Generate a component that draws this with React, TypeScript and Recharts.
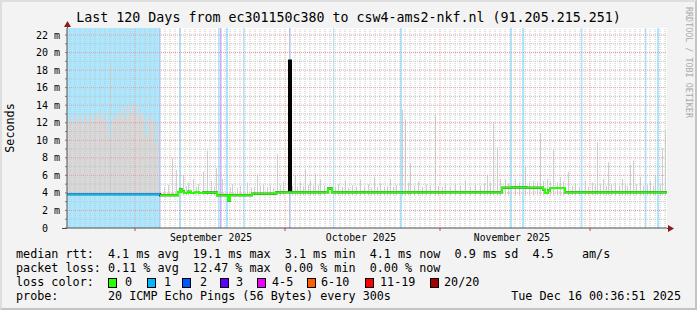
import { ComposedChart, Area, Line, XAxis, YAxis, ReferenceLine, ReferenceArea } from 'recharts'

const MONO = '"DejaVu Sans Mono", "Liberation Mono", monospace'

// x = days since the left edge of the graph (120 days ending Tue Dec 16 00:36)
const monthStarts = [13.6, 43.6, 74.6, 104.6]
const monthLabels = [
  { t: 28.8, label: 'September 2025' },
  { t: 58.8, label: 'October 2025' },
  { t: 89.0, label: 'November 2025' },
]
const yTicks = [0, 1, 2, 3, 4, 5, 6, 7, 8, 9, 10, 11, 12, 13, 14, 15, 16, 17, 18, 19, 20, 21, 22]

// loss colours by loss level index
const lossColors = ['#26ff00', '#00b8ff', '#0059ff', '#5e00ff', '#ee00ff', '#ff5e00', '#ff0000', '#a10000']
const lossLabels = ['0', '1', '2', '3', '4-5', '6-10', '11-19', '20/20']

// loss bars: [from, to, level]
const lossBars: [number, number, number][] = [
  [0, 18.4, 1], [18.4, 18.7, 2], [22.4, 22.8, 1], [30.2, 30.5, 1], [30.6, 30.9, 3],
  [31.8, 32.2, 1], [35.2, 35.5, 1], [44.4, 44.7, 2], [53.2, 53.4, 1], [66.6, 67.0, 1],
  [88.6, 89.0, 1], [91.0, 91.4, 1], [102.8, 103.1, 1], [115.6, 115.9, 1], [118.0, 118.4, 1],
]

// smoke (ms) — dense part at the start: [t, hi]
const SMOKE_LO = 3.7
const smokeBlock: [number, number][] = [
  [0, 12.0], [0.5, 12.6], [1, 11.8], [1.5, 12.9], [2, 12.2], [2.5, 12.7], [3, 11.9], [3.5, 13.0],
  [4, 12.4], [4.5, 12.8], [5, 12.1], [5.5, 13.2], [6, 12.6], [6.5, 13.4], [7, 12.3], [7.5, 12.9],
  [8, 11.6], [8.5, 10.2], [9, 12.8], [9.5, 12.4], [10, 13.3], [10.5, 12.7], [11, 13.6], [11.5, 12.5],
  [12, 13.9], [12.5, 13.1], [13, 14.2], [13.5, 12.9], [14, 13.7], [14.5, 12.6], [15, 13.2], [15.5, 10.6],
  [16, 12.4], [16.5, 13.0], [17, 12.2], [17.5, 9.6], [18, 11.8], [18.4, SMOKE_LO],
]
// single smoke spikes: [t, hi]
const smokeSpikes: [number, number][] = [
  [8.6, 18.8], [19.4, 4.6], [20.2, 4.9], [21.0, 8.0], [21.8, 6.6], [23.2, 6.0], [23.8, 4.8], [24.2, 5.2],
  [25.2, 5.6], [25.8, 4.7], [26.2, 5.0], [27.2, 6.4], [28.0, 8.8], [28.8, 5.4], [29.4, 4.7], [29.8, 6.8],
  [31.0, 5.6], [32.6, 4.6], [33.0, 5.0], [34.0, 4.6], [34.6, 4.8], [36.0, 5.2], [36.8, 4.6], [37.4, 4.7],
  [38.0, 6.1], [38.6, 4.8], [39.2, 5.0], [40.0, 4.7], [40.6, 4.9], [41.2, 4.6], [42.0, 8.4], [42.6, 4.9],
  [43.2, 5.3], [45.0, 4.8], [45.6, 6.0], [46.0, 4.7], [46.6, 5.2], [47.2, 4.8], [47.6, 6.6], [48.2, 4.9],
  [48.6, 5.4], [49.2, 4.8], [49.6, 6.2], [50.2, 4.9], [50.6, 5.6], [51.4, 4.8], [53.6, 4.7], [54.2, 5.0],
  [55.0, 4.7], [55.6, 5.4], [56.2, 4.6], [57.0, 4.9], [57.8, 4.7], [58.6, 5.5], [59.4, 4.7], [60.2, 5.0],
  [60.8, 4.6], [61.4, 5.8], [62.0, 4.7], [62.6, 5.1], [63.4, 4.7], [64.0, 4.8], [64.6, 5.6], [65.2, 4.7],
  [65.8, 4.9], [67.0, 13.5], [67.6, 12.4], [68.2, 5.2], [68.6, 7.4], [69.4, 4.8], [70.2, 5.3], [71.0, 4.7],
  [71.8, 5.0], [72.6, 4.8], [73.6, 12.9], [74.2, 4.8], [75.0, 4.7], [75.6, 5.1], [76.6, 4.7], [77.6, 5.0],
  [78.6, 4.8], [79.6, 5.4], [80.6, 4.7], [81.6, 4.9], [82.6, 4.8], [83.4, 5.1], [84.0, 6.0], [84.6, 5.2],
  [85.2, 12.0], [86.0, 9.2], [86.6, 5.6], [87.6, 5.5], [88.2, 5.1], [89.6, 5.6], [90.4, 5.2], [91.6, 7.0],
  [92.4, 5.2], [93.2, 5.4], [94.0, 5.3], [94.6, 10.8], [95.2, 5.4], [96.0, 5.6], [96.6, 5.3], [97.2, 8.9],
  [98.0, 5.2], [98.6, 5.8], [99.2, 5.3], [100.2, 6.4], [101.0, 4.8], [101.6, 5.1], [102.4, 4.7], [103.6, 5.4],
  [104.2, 4.7], [105.0, 5.2], [105.6, 4.8], [106.0, 9.8], [106.6, 5.0], [107.2, 5.6], [107.8, 4.8], [108.2, 7.5],
  [108.8, 5.0], [109.6, 5.2], [110.4, 4.8], [111.0, 5.6], [111.6, 5.0], [112.0, 4.8], [112.6, 7.2], [113.2, 7.7],
  [113.8, 5.0], [114.6, 5.8], [115.2, 4.8], [116.0, 4.9], [116.6, 5.4], [117.2, 4.8], [117.6, 5.9], [118.6, 5.0],
  [119.0, 9.1], [119.6, 11.2],
]

// median rtt steps (ms): [t, value]
const medianBlue: [number, number][] = [[0, 3.84], [18.6, 3.84]]
const medianGreen: [number, number][] = [
  [18.6, 3.73], [22.2, 4.1], [22.6, 4.4], [23.0, 4.2], [23.4, 4.0], [24.2, 4.12], [24.8, 3.98], [25.6, 4.1],
  [26.4, 4.0], [27.2, 4.05], [30.0, 3.73], [32.2, 3.1], [32.6, 3.73], [37.0, 3.9], [41.8, 4.07], [52.2, 4.5],
  [53.0, 4.07], [87.0, 4.6], [89.0, 4.62], [92.0, 4.58], [95.2, 4.35], [95.6, 4.0], [96.2, 4.3], [96.6, 4.55],
  [99.6, 4.07], [120, 4.07],
]
const medianSpike: [number, number][] = [[44.4, 19.1], [44.8, 4.07]]

const blockData = smokeBlock.map(([t, hi]) => ({ t, r: [SMOKE_LO, hi] }))
const spikeData = smokeSpikes.flatMap(([t, hi]) => [
  { t, r: [SMOKE_LO, hi] },
  { t: t + 0.2, r: [SMOKE_LO, SMOKE_LO] },
])
const blueData = medianBlue.map(([t, v]) => ({ t, v }))
const greenData = medianGreen.map(([t, v]) => ({ t, v }))
const blackData = [medianBlue[0], ...medianGreen, ...medianSpike]
  .sort((a, b) => a[0] - b[0])
  .map(([t, v]) => ({ t, v }))

const dayLines: number[] = []
for (let d = 0.6; d < 120; d += 1) {
  const r = Math.round(d * 10) / 10
  if (!monthStarts.includes(r)) dayLines.push(r)
}

const YTick = (props: any) => {
  const { x, y, payload } = props
  const v = payload.value
  return (
    <g>
      <line x1={x - 2} x2={x} y1={y} y2={y} stroke="#777" />
      {v % 2 === 0 && (
        <text x={v === 0 ? x - 19 : x - 7} y={y} dy={3.5} textAnchor="end" fontFamily={MONO} fontSize={10} fill="#000">
          {v === 0 ? '0' : `${v} m`}
        </text>
      )}
    </g>
  )
}

const XTick = (props: any) => {
  const { x, y, payload } = props
  const m = monthLabels.find((l) => l.t === payload.value)
  if (!m) return <line x1={x} x2={x} y1={y} y2={y + 3} stroke="#d04040" />
  return (
    <text x={x} y={y + 13} textAnchor="middle" fontFamily={MONO} fontSize={9.75} fill="#000">
      {m.label}
    </text>
  )
}

const lineStyle: React.CSSProperties = {
  position: 'absolute',
  left: 16,
  fontFamily: MONO,
  fontSize: 11.75,
  lineHeight: '14px',
  whiteSpace: 'pre',
  color: '#000',
}

const legendX = [108, 147, 182, 220, 257, 307, 365, 430]
const legendLabelX = [125, 164, 200, 236, 272, 321, 380, 444]

export default function App() {
  return (
    <div style={{ position: 'absolute', left: 0, top: 0, width: 697, height: 310, background: '#f3f3f3', overflow: 'hidden' }}>
      <div style={{ position: 'absolute', left: 67, top: 28, width: 600, height: 200, background: '#fff' }} />
      <div style={{ position: 'absolute', left: 0, top: 0 }}>
        <ComposedChart width={697} height={310} margin={{ top: 28, right: 30, bottom: 62, left: 7 }}>
          <XAxis
            dataKey="t"
            type="number"
            domain={[0, 120]}
            allowDataOverflow
            ticks={[...monthStarts, ...monthLabels.map((m) => m.t)].sort((a, b) => a - b)}
            interval={0}
            tick={<XTick />}
            tickLine={false}
            tickSize={0}
            tickMargin={0}
            axisLine={{ stroke: '#505050' }}
            height={20}
          />
          <YAxis
            type="number"
            domain={[0, 22.8]}
            allowDataOverflow
            ticks={yTicks}
            interval={0}
            tick={<YTick />}
            tickLine={false}
            tickSize={0}
            tickMargin={0}
            axisLine={{ stroke: '#505050' }}
            width={60}
          />
          {lossBars.map(([a, b, lvl], i) => (
            <ReferenceArea key={'l' + i} x1={a} x2={b} y1={0} y2={22.8} fill={lossColors[lvl]} fillOpacity={0.33} stroke="none" ifOverflow="hidden" zIndex={50} />
          ))}
          <Area data={blockData} dataKey="r" type="stepAfter" stroke="none" fill="#d8d8d8" fillOpacity={1} isAnimationActive={false} dot={false} activeDot={false} zIndex={100} />
          <Area data={spikeData} dataKey="r" type="stepAfter" stroke="none" fill="#cfcfcf" fillOpacity={1} isAnimationActive={false} dot={false} activeDot={false} zIndex={100} />
          {yTicks.filter((v) => v > 0).map((v) => (
            <ReferenceLine key={'h' + v} y={v} stroke={v % 2 === 0 ? '#ee9a9a' : '#c4c4c4'} strokeDasharray="1 1" zIndex={150} />
          ))}
          {dayLines.map((d) => (
            <ReferenceLine key={'d' + d} x={d} stroke="#c4c4c4" strokeDasharray="1 1" zIndex={150} />
          ))}
          {monthStarts.map((d) => (
            <ReferenceLine key={'m' + d} x={d} stroke="#ee9a9a" strokeDasharray="1 1" zIndex={150} />
          ))}
          <Line data={blackData} dataKey="v" type="stepAfter" stroke="#000" strokeWidth={2} dot={false} activeDot={false} isAnimationActive={false} zIndex={400} />
          <Line data={greenData} dataKey="v" type="stepAfter" stroke="#26ff00" strokeWidth={2} dot={false} activeDot={false} isAnimationActive={false} zIndex={401} />
          <Line data={blueData} dataKey="v" type="stepAfter" stroke="#00b8ff" strokeWidth={2} dot={false} activeDot={false} isAnimationActive={false} zIndex={401} />
        </ComposedChart>
      </div>
      <svg width={697} height={310} style={{ position: 'absolute', left: 0, top: 0, pointerEvents: 'none' }}>
        <line x1={62} x2={67} y1={228.5} y2={228.5} stroke="#505050" />
        <line x1={667} x2={669} y1={228.5} y2={228.5} stroke="#505050" />
        <line x1={67.5} x2={67.5} y1={25} y2={28} stroke="#505050" />
        <polygon points="64,27 71,27 67.5,21" fill="#8b1a1a" />
        <polygon points="668,225 668,232 674,228.5" fill="#8b1a1a" />
      </svg>
      <div style={{ position: 'absolute', left: 0, top: 10, width: 697, textAlign: 'center', fontFamily: MONO, fontSize: 13.3, lineHeight: '16px', whiteSpace: 'pre' }}>
        Last 120 Days from ec301150c380 to csw4-ams2-nkf.nl (91.205.215.251)
      </div>
      <div style={{ position: 'absolute', left: 10, top: 128, transform: 'translate(-50%, -50%) rotate(-90deg)', fontFamily: MONO, fontSize: 11.75, lineHeight: '14px', whiteSpace: 'pre' }}>
        Seconds
      </div>
      <div style={{ position: 'absolute', left: 683, top: 7, writingMode: 'vertical-rl', fontFamily: MONO, fontSize: 8.4, lineHeight: '11px', color: '#aaaaaa', whiteSpace: 'pre' }}>
        RRDTOOL / TOBI OETIKER
      </div>
      <div style={{ ...lineStyle, top: 247 }}>median rtt:  4.1 ms avg  19.1 ms max  3.1 ms min  4.1 ms now  0.9 ms sd  4.5    am/s</div>
      <div style={{ ...lineStyle, top: 261 }}>packet loss: 0.11 % avg  12.47 % max  0.00 % min  0.00 % now</div>
      <div style={{ ...lineStyle, top: 275 }}>loss color:</div>
      {lossLabels.map((l, i) => (
        <div key={l}>
          <div style={{ position: 'absolute', left: legendX[i], top: 278, width: 7, height: 8, background: lossColors[i], border: '1px solid #000' }} />
          <div style={{ ...lineStyle, left: legendLabelX[i], top: 275 }}>{l}</div>
        </div>
      ))}
      <div style={{ ...lineStyle, top: 289 }}>probe:       20 ICMP Echo Pings (56 Bytes) every 300s</div>
      <div style={{ ...lineStyle, left: 'auto', right: 16, top: 289 }}>Tue Dec 16 00:36:51 2025</div>
      <div style={{ position: 'absolute', left: 0, top: 0, width: 697, height: 310, boxSizing: 'border-box', borderTop: '2px solid #dedede', borderLeft: '2px solid #dedede', borderRight: '2px solid #c4c4c4', borderBottom: '2px solid #c4c4c4', pointerEvents: 'none' }} />
    </div>
  )
}
